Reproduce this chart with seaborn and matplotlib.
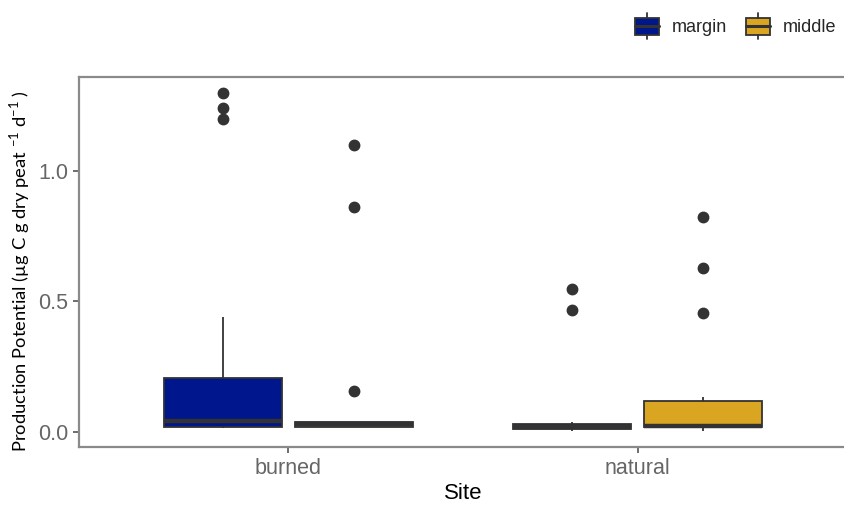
import numpy as np
import pandas as pd
import matplotlib
matplotlib.use("Agg")
import matplotlib.pyplot as plt
import seaborn as sns
from matplotlib.legend_handler import HandlerBase
from matplotlib.patches import Rectangle, Patch
from matplotlib.lines import Line2D

sites = ["burned", "natural"]
zones = ["margin", "middle"]

burned_margin = [0.015, 0.016, 0.017, 0.018, 0.019, 0.025, 0.030, 0.036, 0.042,
                 0.060, 0.090, 0.140, 0.207, 0.440, 1.200, 1.240, 1.300]
burned_middle = [0.018, 0.019, 0.020, 0.020, 0.024, 0.028, 0.030, 0.032, 0.035,
                 0.037, 0.157, 0.862, 1.100]
natural_margin = [0.005, 0.008, 0.010, 0.012, 0.015, 0.018, 0.020, 0.023, 0.026,
                  0.030, 0.040, 0.467, 0.548]
natural_middle = [0.005, 0.010, 0.015, 0.018, 0.020, 0.021, 0.022, 0.0225, 0.023,
                  0.040, 0.070, 0.095, 0.119, 0.135, 0.455, 0.628, 0.824]

groups = {("burned", "margin"): burned_margin,
          ("burned", "middle"): burned_middle,
          ("natural", "margin"): natural_margin,
          ("natural", "middle"): natural_middle}

df = pd.concat([pd.DataFrame({"Site": s, "Zone": z, "value": v})
                for (s, z), v in groups.items()], ignore_index=True)

palette = {"margin": "#00168C", "middle": "#DAA520"}
EDGE = "#333333"

sns.set_theme(style="white")
plt.rcParams["font.family"] = ["Liberation Sans", "DejaVu Sans"]

fig = plt.figure(figsize=(8.44, 5.05), dpi=100)
ax = fig.add_axes([79 / 844, 58 / 505, 768 / 844, 370.5 / 505])

sns.boxplot(data=df, x="Site", y="value", hue="Zone", order=sites,
            hue_order=zones, palette=palette, saturation=1, width=0.75, gap=0.1,
            linecolor=EDGE, linewidth=1.3, whis=1.5, showcaps=False,
            medianprops={"linewidth": 3.2, "color": EDGE},
            flierprops={"marker": "o", "markerfacecolor": EDGE,
                        "markeredgecolor": EDGE, "markersize": 7.5},
            legend=False, ax=ax)

ax.set_xlim(-0.6, 1.6)
ax.set_ylim(-0.0575, 1.362)
ax.set_yticks([0.0, 0.5, 1.0])
ax.set_yticklabels(["0.0", "0.5", "1.0"])

for sp in ax.spines.values():
    sp.set_color("#8a8a8a")
    sp.set_linewidth(1.6)

ax.tick_params(axis="both", which="both", length=4, width=1.2, color="#555555",
               labelcolor="#666666", labelsize=15.5, pad=4, bottom=True, left=True)

ax.set_xlabel("Site", fontsize=16, color="black", labelpad=3)
ax.set_ylabel("Production Potential (µg C g dry peat $^{\\mathregular{-1}}$ d$^{\\mathregular{-1}}$ )",
              fontsize=13.2, color="black", family=["Lato", "DejaVu Sans"])
ax.yaxis.set_label_coords(-0.061, 0.475)


# ── legend with boxplot-style keys ──
class BoxKey(HandlerBase):
    def create_artists(self, legend, orig_handle, xdescent, ydescent,
                       width, height, fontsize, trans):
        x0, y0 = -xdescent, -ydescent
        fc = orig_handle.get_facecolor()
        cx = x0 + width / 2
        r = Rectangle((x0 + width * 0.08, y0 + height * 0.05),
                      width * 0.84, height * 0.9, facecolor=fc,
                      edgecolor=EDGE, linewidth=1.3, transform=trans)
        med = Line2D([x0 + width * 0.08, x0 + width * 0.92],
                     [y0 + height * 0.5] * 2, color=EDGE, lw=2.2, transform=trans)
        w1 = Line2D([cx, cx], [y0 - height * 0.2, y0 + height * 0.05],
                    color=EDGE, lw=1.3, transform=trans)
        w2 = Line2D([cx, cx], [y0 + height * 0.95, y0 + height * 1.2],
                    color=EDGE, lw=1.3, transform=trans)
        return [r, med, w1, w2]


handles = [Patch(facecolor=palette[z]) for z in zones]
fig.legend(handles, zones, loc="center right", bbox_to_anchor=(1.0, 0.947),
           ncol=2, frameon=False, fontsize=13, handler_map={Patch: BoxKey()},
           handlelength=1.6, handleheight=1.2, handletextpad=0.6,
           columnspacing=0.9, borderaxespad=0)

fig.savefig("out.png", dpi=100)
